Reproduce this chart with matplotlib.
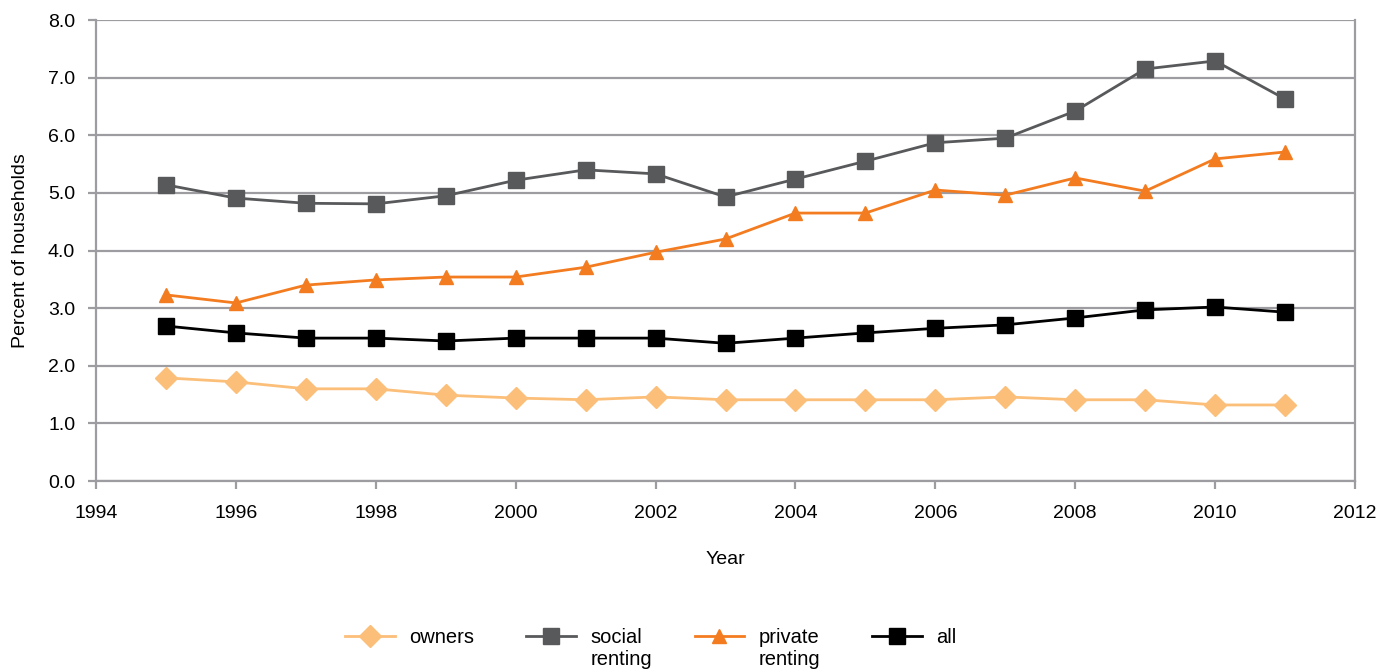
import matplotlib.pyplot as plt
from matplotlib.text import Annotation

plt.rcParams['font.family'] = ['Liberation Sans', 'DejaVu Sans']

# share of households, by tenure
years = [1995, 1996, 1997, 1998, 1999, 2000, 2001, 2002, 2003,
         2004, 2005, 2006, 2007, 2008, 2009, 2010, 2011]
owners = [1.79, 1.72, 1.60, 1.60, 1.49, 1.44, 1.41, 1.46, 1.41,
          1.41, 1.41, 1.41, 1.46, 1.41, 1.41, 1.32, 1.32]
social = [5.14, 4.91, 4.82, 4.81, 4.95, 5.22, 5.40, 5.33, 4.93,
          5.24, 5.55, 5.87, 5.95, 6.42, 7.15, 7.29, 6.63]
private = [3.23, 3.09, 3.40, 3.49, 3.54, 3.54, 3.71, 3.97, 4.20,
           4.65, 4.65, 5.05, 4.96, 5.26, 5.03, 5.59, 5.71]
all_households = [2.69, 2.57, 2.48, 2.48, 2.43, 2.48, 2.48, 2.48, 2.39,
                  2.48, 2.57, 2.65, 2.71, 2.83, 2.97, 3.02, 2.93]

grid_grey = '#9d9da1'
fs = 14
leg_fs = 14.5

fig = plt.figure(figsize=(13.96, 6.72), dpi=100)
ax = fig.add_axes([0.0688, 0.2842, 0.9018, 0.686])

ax.plot(years, owners, color='#fcbf79', lw=2, marker='D', ms=11,
        label='owners')
ax.plot(years, social, color='#58595b', lw=2, marker='s', ms=11,
        label='social')
ax.plot(years, private, color='#f47c20', lw=2, marker='^', ms=10,
        label='private')
ax.plot(years, all_households, color='black', lw=2, marker='s', ms=11,
        label='all')

ax.set_xlim(1994, 2012)
ax.set_ylim(0, 8)
ax.set_xticks(range(1994, 2013, 2))
ax.set_yticks(range(0, 9))
ax.yaxis.set_major_formatter(plt.FormatStrFormatter('%.1f'))
ax.grid(axis='y', color=grid_grey, lw=1.6)
ax.set_axisbelow(True)
for side in ['left', 'right', 'bottom']:
    ax.spines[side].set_color(grid_grey)
    ax.spines[side].set_linewidth(1.6)
ax.spines['top'].set_visible(False)
ax.tick_params(axis='both', colors=grid_grey, length=6, width=1.6,
               labelcolor='black', labelsize=fs)
ax.tick_params(axis='x', pad=11)
ax.tick_params(axis='y', pad=9)

ax.set_xlabel('Year', fontsize=fs, labelpad=21)
ax.set_ylabel('Percent of households', fontsize=fs, labelpad=14)

leg = fig.legend(loc='center left', bbox_to_anchor=(0.2471, 0.052),
                 ncol=4, frameon=False, fontsize=leg_fs, borderpad=0,
                 borderaxespad=0, handlelength=2.48, handletextpad=0.7,
                 columnspacing=2.6)

# second line of the two renting labels, drawn after the legend
for t in leg.get_texts()[1:3]:
    a = Annotation('renting', xy=(0, 0), xycoords=t, xytext=(0, -13.5),
                   textcoords='offset points', va='baseline', ha='left',
                   fontsize=leg_fs)
    a.set_zorder(leg.get_zorder() + 1)
    fig.add_artist(a)

fig.savefig('out.png', dpi=100)
